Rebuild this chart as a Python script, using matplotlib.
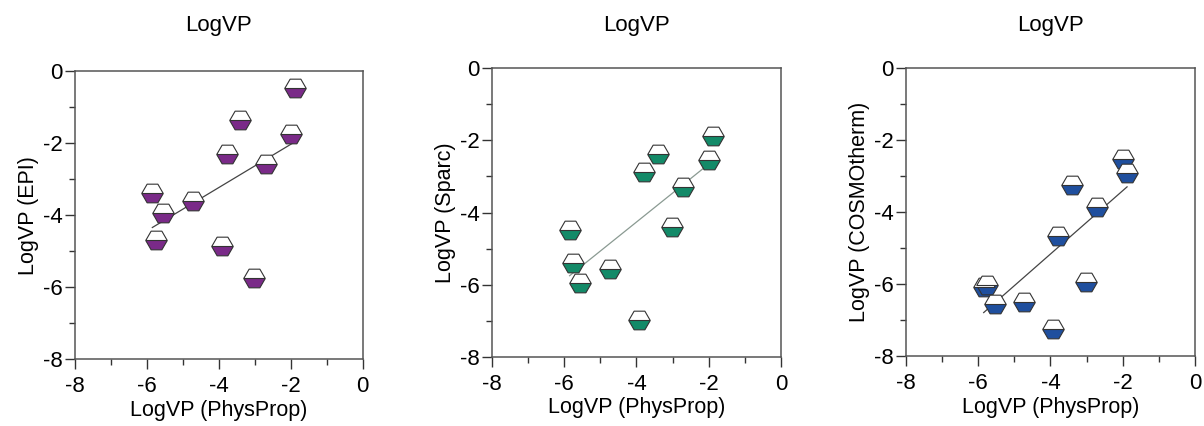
import numpy as np
import matplotlib
matplotlib.use("Agg")
import matplotlib.pyplot as plt
from matplotlib.ticker import MultipleLocator

plt.rcParams['font.family'] = ['Liberation Sans', 'DejaVu Sans']
plt.rcParams['axes.unicode_minus'] = False

physprop = [-5.85, -5.75, -5.55, -4.72, -3.92, -3.78, -3.4, -3.02, -2.7, -2.0, -1.88]
epi = [-3.38, -4.69, -3.95, -3.6, -4.86, -2.31, -1.35, -5.76, -2.57, -1.76, -0.47]
sparc = [-4.49, -5.41, -5.94, -5.57, -6.98, -2.89, -2.38, -4.39, -3.28, -2.54, -1.88]
cosmo = [-6.09, -6.02, -6.55, -6.5, -7.26, -4.65, -3.24, -5.95, -3.85, -2.52, -2.9]

titles = ["LogVP", "LogVP", "LogVP"]
ylabels = ["LogVP (EPI)", "LogVP (Sparc)", "LogVP (COSMOtherm)"]
xlabel = "LogVP (PhysProp)"
series = [epi, sparc, cosmo]
colors = ["#7a2a88", "#138a68", "#1f4f9e"]
line_colors = ["#444444", "#8a9a92", "#444444"]

fig = plt.figure(figsize=(12.04, 4.26), dpi=100)
positions = [
    [0.0623, 0.157, 0.239, 0.676],
    [0.4086, 0.162, 0.240, 0.678],
    [0.7525, 0.164, 0.240, 0.676],
]

for i in range(3):
    ax = fig.add_axes(positions[i])
    x = np.array(physprop)
    y = np.array(series[i])
    slope, intercept = np.polyfit(x, y, 1)
    xl = np.array([x.min(), x.max()])
    ax.plot(xl, slope * xl + intercept, color=line_colors[i], lw=0.9, zorder=2)
    ax.plot(x, y, linestyle='none', marker='H', markersize=15.5,
            fillstyle='bottom', markerfacecolor=colors[i],
            markerfacecoloralt='white', markeredgecolor='#333333',
            markeredgewidth=0.8, zorder=3)
    ax.set_xlim(-8, 0)
    ax.set_ylim(-8, 0)
    ax.xaxis.set_major_locator(MultipleLocator(2))
    ax.xaxis.set_minor_locator(MultipleLocator(1))
    ax.yaxis.set_major_locator(MultipleLocator(2))
    ax.yaxis.set_minor_locator(MultipleLocator(1))
    ax.tick_params(which='major', direction='out', length=7, width=1.0,
                   labelsize=16, color='#333333', pad=2)
    ax.tick_params(axis='x', which='major', pad=5)
    ax.tick_params(which='minor', direction='out', length=4, width=1.0,
                   color='#333333')
    for s in ax.spines.values():
        s.set_color('#555555')
        s.set_linewidth(1.1)
    ax.set_xlabel(xlabel, fontsize=15.5, labelpad=2)
    ax.set_ylabel(ylabels[i], fontsize=15.5, labelpad=3)
    cx = positions[i][0] + positions[i][2] / 2
    fig.text(cx, 1 - 25 / 426, titles[i], ha='center', va='center', fontsize=16)

fig.savefig("out.png", dpi=100)
